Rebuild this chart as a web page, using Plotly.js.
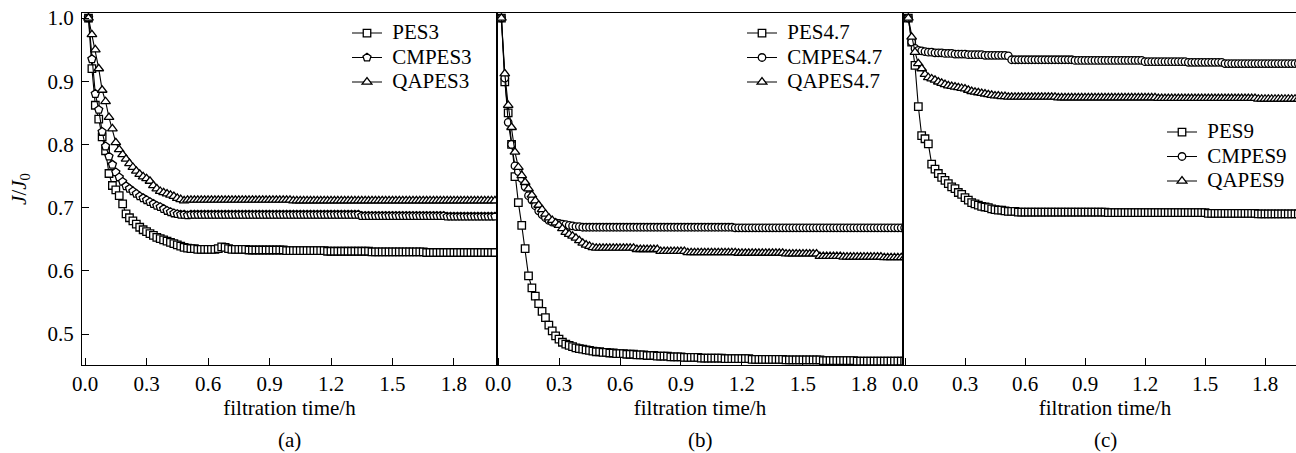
<!DOCTYPE html>
<html><head><meta charset="utf-8">
<script src="https://cdn.plot.ly/plotly-3.0.1.min.js"></script>
<style>html,body{margin:0;padding:0;overflow:hidden;background:#fff}#chart{width:1310px;height:453px}</style>
</head><body><div id="chart"></div>
<script>
// filtration time (minutes)
const TIME_MIN = [1,2,3,4,5,6,7,8,9,10,11,12,13,14,15,16,17,18,19,20,
21,22,23,24,25,26,27,28,29,30,31,32,33,34,35,36,37,38,39,40,
41,42,43,44,45,46,47,48,49,50,51,52,53,54,55,56,57,58,59,60,
61,62,63,64,65,66,67,68,69,70,71,72,73,74,75,76,77,78,79,80,
81,82,83,84,85,86,87,88,89,90,91,92,93,94,95,96,97,98,99,100,
101,102,103,104,105,106,107,108,109,110,111,112,113,114,115,116,117,118,119,120];

const PES3 = [
1.000,0.920,0.862,0.840,0.812,0.790,0.754,0.735,0.728,0.719,
0.706,0.690,0.684,0.679,0.674,0.669,0.665,0.662,0.659,0.656,
0.653,0.651,0.649,0.647,0.645,0.643,0.641,0.639,0.637,0.636,
0.635,0.635,0.634,0.634,0.634,0.634,0.634,0.634,0.635,0.638,
0.637,0.635,0.634,0.634,0.634,0.634,0.634,0.633,0.633,0.633,
0.633,0.633,0.633,0.633,0.633,0.633,0.633,0.633,0.632,0.632,
0.632,0.632,0.632,0.632,0.632,0.632,0.632,0.632,0.632,0.632,
0.631,0.631,0.631,0.631,0.631,0.631,0.631,0.631,0.631,0.631,
0.631,0.631,0.631,0.630,0.630,0.630,0.630,0.630,0.630,0.630,
0.630,0.630,0.630,0.630,0.630,0.630,0.630,0.630,0.630,0.629,
0.629,0.629,0.629,0.629,0.629,0.629,0.629,0.629,0.629,0.629,
0.629,0.629,0.629,0.629,0.629,0.629,0.629,0.629,0.629,0.629];
const CMPES3 = [
1.000,0.935,0.880,0.855,0.820,0.797,0.781,0.768,0.756,0.748,
0.741,0.734,0.730,0.726,0.722,0.718,0.715,0.712,0.709,0.706,
0.703,0.701,0.698,0.695,0.693,0.691,0.690,0.689,0.689,0.688,
0.689,0.689,0.689,0.689,0.689,0.689,0.689,0.689,0.689,0.689,
0.689,0.689,0.689,0.689,0.689,0.689,0.689,0.689,0.689,0.689,
0.689,0.689,0.689,0.689,0.689,0.689,0.689,0.689,0.689,0.689,
0.689,0.689,0.689,0.689,0.689,0.689,0.689,0.689,0.689,0.689,
0.689,0.689,0.689,0.689,0.689,0.689,0.689,0.689,0.689,0.689,
0.687,0.687,0.687,0.687,0.687,0.687,0.687,0.687,0.687,0.687,
0.687,0.687,0.687,0.687,0.687,0.687,0.687,0.687,0.687,0.687,
0.687,0.687,0.687,0.687,0.687,0.686,0.686,0.686,0.686,0.686,
0.686,0.686,0.686,0.686,0.686,0.686,0.686,0.686,0.686,0.686];
const QAPES3 = [
1.000,0.974,0.950,0.920,0.886,0.868,0.843,0.825,0.803,0.792,
0.784,0.777,0.770,0.764,0.758,0.753,0.749,0.746,0.742,0.735,
0.730,0.726,0.724,0.722,0.720,0.718,0.715,0.713,0.711,0.712,
0.712,0.712,0.712,0.712,0.712,0.712,0.712,0.712,0.712,0.712,
0.712,0.712,0.712,0.712,0.712,0.712,0.712,0.712,0.712,0.712,
0.712,0.712,0.712,0.712,0.712,0.712,0.712,0.712,0.712,0.712,
0.711,0.711,0.711,0.711,0.711,0.711,0.711,0.711,0.711,0.711,
0.711,0.711,0.711,0.711,0.711,0.711,0.711,0.711,0.711,0.711,
0.711,0.711,0.711,0.711,0.711,0.711,0.711,0.711,0.711,0.711,
0.711,0.711,0.711,0.711,0.711,0.711,0.711,0.711,0.711,0.711,
0.711,0.711,0.711,0.711,0.711,0.711,0.711,0.711,0.711,0.711,
0.711,0.711,0.711,0.711,0.711,0.711,0.711,0.711,0.711,0.711];

const PES47 = [
1.000,0.899,0.850,0.800,0.749,0.708,0.672,0.635,0.592,0.573,
0.560,0.548,0.536,0.526,0.514,0.505,0.497,0.492,0.487,0.484,
0.482,0.480,0.478,0.477,0.476,0.475,0.474,0.473,0.472,0.472,
0.471,0.471,0.470,0.470,0.469,0.469,0.469,0.468,0.468,0.468,
0.467,0.467,0.467,0.466,0.466,0.466,0.465,0.465,0.465,0.465,
0.464,0.464,0.464,0.464,0.463,0.463,0.463,0.463,0.463,0.462,
0.462,0.462,0.462,0.462,0.462,0.462,0.461,0.461,0.461,0.461,
0.461,0.461,0.461,0.461,0.460,0.460,0.460,0.460,0.460,0.460,
0.460,0.460,0.460,0.460,0.459,0.459,0.459,0.459,0.459,0.459,
0.459,0.459,0.459,0.459,0.459,0.458,0.458,0.458,0.458,0.458,
0.458,0.458,0.458,0.458,0.458,0.457,0.457,0.457,0.457,0.457,
0.457,0.457,0.457,0.457,0.457,0.457,0.457,0.457,0.457,0.457];
const CMPES47 = [
1.000,0.905,0.835,0.800,0.766,0.757,0.746,0.733,0.719,0.712,
0.703,0.695,0.689,0.684,0.680,0.677,0.676,0.675,0.674,0.673,
0.672,0.671,0.670,0.670,0.669,0.669,0.669,0.669,0.669,0.669,
0.669,0.669,0.669,0.669,0.669,0.669,0.669,0.669,0.669,0.669,
0.669,0.669,0.669,0.669,0.669,0.669,0.669,0.669,0.669,0.669,
0.669,0.669,0.669,0.669,0.669,0.669,0.669,0.669,0.669,0.669,
0.669,0.669,0.669,0.669,0.669,0.669,0.669,0.669,0.669,0.668,
0.668,0.668,0.668,0.668,0.668,0.668,0.668,0.668,0.668,0.668,
0.668,0.668,0.668,0.668,0.668,0.668,0.668,0.668,0.668,0.668,
0.668,0.668,0.668,0.668,0.668,0.668,0.668,0.668,0.668,0.668,
0.668,0.668,0.668,0.668,0.668,0.668,0.668,0.668,0.668,0.668,
0.668,0.668,0.668,0.668,0.668,0.668,0.668,0.668,0.668,0.668];
const QAPES47 = [
1.000,0.912,0.862,0.827,0.788,0.764,0.751,0.740,0.730,0.720,
0.711,0.704,0.697,0.690,0.684,0.680,0.676,0.672,0.667,0.661,
0.658,0.655,0.652,0.648,0.644,0.641,0.639,0.637,0.636,0.636,
0.636,0.636,0.636,0.636,0.636,0.636,0.636,0.636,0.636,0.636,
0.634,0.634,0.634,0.634,0.634,0.634,0.634,0.631,0.631,0.631,
0.631,0.631,0.631,0.631,0.631,0.629,0.629,0.629,0.629,0.629,
0.629,0.629,0.629,0.629,0.629,0.629,0.629,0.629,0.629,0.629,
0.628,0.628,0.628,0.628,0.628,0.628,0.628,0.628,0.628,0.628,
0.628,0.628,0.628,0.628,0.627,0.627,0.627,0.627,0.627,0.627,
0.627,0.627,0.627,0.627,0.623,0.623,0.623,0.623,0.623,0.623,
0.623,0.622,0.622,0.622,0.622,0.622,0.622,0.622,0.622,0.622,
0.622,0.622,0.622,0.621,0.621,0.621,0.621,0.621,0.621,0.621];

const PES9 = [
1.000,0.962,0.925,0.860,0.814,0.809,0.801,0.769,0.761,0.754,
0.748,0.743,0.738,0.733,0.730,0.724,0.721,0.716,0.712,0.708,
0.706,0.704,0.702,0.701,0.700,0.698,0.697,0.696,0.696,0.695,
0.694,0.694,0.694,0.693,0.693,0.693,0.693,0.693,0.693,0.693,
0.693,0.693,0.693,0.693,0.693,0.693,0.693,0.693,0.693,0.693,
0.693,0.693,0.693,0.693,0.693,0.693,0.693,0.693,0.693,0.693,
0.692,0.692,0.692,0.692,0.692,0.692,0.692,0.692,0.692,0.692,
0.692,0.692,0.692,0.692,0.692,0.692,0.692,0.692,0.692,0.692,
0.692,0.692,0.692,0.692,0.692,0.692,0.692,0.692,0.692,0.692,
0.691,0.691,0.691,0.691,0.691,0.691,0.691,0.691,0.691,0.691,
0.691,0.691,0.691,0.691,0.691,0.690,0.690,0.690,0.690,0.690,
0.690,0.690,0.690,0.690,0.690,0.690,0.690,0.690,0.690,0.690];
const CMPES9 = [
1.000,0.962,0.952,0.949,0.948,0.947,0.946,0.946,0.945,0.945,
0.945,0.944,0.944,0.944,0.943,0.943,0.943,0.943,0.942,0.942,
0.942,0.942,0.942,0.941,0.941,0.941,0.941,0.941,0.941,0.941,
0.940,0.934,0.934,0.934,0.934,0.934,0.934,0.934,0.934,0.934,
0.934,0.934,0.934,0.934,0.934,0.934,0.934,0.934,0.934,0.934,
0.933,0.933,0.933,0.933,0.933,0.933,0.933,0.933,0.933,0.933,
0.933,0.933,0.933,0.933,0.933,0.933,0.933,0.933,0.933,0.933,
0.933,0.931,0.931,0.931,0.931,0.931,0.931,0.931,0.931,0.931,
0.931,0.931,0.931,0.931,0.930,0.930,0.930,0.930,0.930,0.930,
0.930,0.930,0.930,0.930,0.930,0.928,0.928,0.928,0.928,0.928,
0.928,0.928,0.928,0.928,0.928,0.928,0.928,0.928,0.928,0.928,
0.928,0.928,0.928,0.928,0.928,0.928,0.928,0.928,0.928,0.928];
const QAPES9 = [
1.000,0.970,0.946,0.928,0.920,0.911,0.906,0.904,0.902,0.899,
0.897,0.895,0.893,0.892,0.891,0.890,0.889,0.888,0.886,0.884,
0.883,0.882,0.881,0.880,0.879,0.878,0.877,0.877,0.876,0.876,
0.875,0.875,0.875,0.875,0.875,0.875,0.875,0.875,0.875,0.875,
0.875,0.875,0.875,0.875,0.875,0.874,0.874,0.874,0.874,0.874,
0.874,0.874,0.874,0.874,0.874,0.874,0.874,0.874,0.874,0.874,
0.874,0.874,0.874,0.874,0.874,0.874,0.874,0.874,0.874,0.874,
0.874,0.874,0.874,0.874,0.874,0.873,0.873,0.873,0.873,0.873,
0.873,0.873,0.873,0.873,0.873,0.873,0.873,0.873,0.873,0.873,
0.873,0.873,0.873,0.873,0.873,0.873,0.873,0.873,0.873,0.873,
0.873,0.873,0.873,0.873,0.873,0.872,0.872,0.872,0.872,0.872,
0.872,0.872,0.872,0.872,0.872,0.872,0.872,0.872,0.872,0.872];

const X_TICK_LABELS = ['0.0','0.3','0.6','0.9','1.2','1.5','1.8'];
const X_TICK_VALS = [0,0.3,0.6,0.9,1.2,1.5,1.8];
const Y_TICK_VALS = [0.5,0.6,0.7,0.8,0.9,1.0];
const Y_TICK_LABELS = ['0.5','0.6','0.7','0.8','0.9','1.0'];
const PANEL_LABELS = ['(a)','(b)','(c)'];

const TIME_H = TIME_MIN.map(m => m / 60);
const FONT = '"Liberation Serif", "Times New Roman", Times, serif';
const W = 1310, H = 453;

function legName(s){ return '<span style="font-size:21px">\u00a0' + s + '</span>'; }
function tr(y, name, sym, size, xa, ya, leg){
  return {x: TIME_H, y: y, name: legName(name), type:'scatter', mode:'lines+markers',
    xaxis: xa, yaxis: ya, legend: leg,
    line:{color:'#000', width:1.1},
    marker:{symbol: sym, size: size, color:'#fff', line:{color:'#000', width:1.3}}};
}
const data = [
  tr(PES3,'PES3','square',7.5,'x','y','legend'),
  tr(CMPES3,'CMPES3','pentagon',8.5,'x','y','legend'),
  tr(QAPES3,'QAPES3','triangle-up',8.5,'x','y','legend'),
  tr(PES47,'PES4.7','square',7.5,'x2','y2','legend2'),
  tr(CMPES47,'CMPES4.7','circle',7.5,'x2','y2','legend2'),
  tr(QAPES47,'QAPES4.7','triangle-up',8.5,'x2','y2','legend2'),
  tr(PES9,'PES9','square',7.5,'x3','y3','legend3'),
  tr(CMPES9,'CMPES9','circle',7.5,'x3','y3','legend3'),
  tr(QAPES9,'QAPES9','triangle-up',8.5,'x3','y3','legend3')
];

const yDom = [88/H, 440/H];
function xax(dom, rng, anchor){
  return {domain: dom, range: rng, anchor: anchor, showline:true, mirror:true, linecolor:'#000', linewidth:1,
    ticks:'inside', ticklen:7, tickwidth:1, tickcolor:'#000',
    tickmode:'array', tickvals: X_TICK_VALS, ticktext: X_TICK_LABELS,
    tickfont:{family:FONT, size:21, color:'#000'}, showgrid:false, zeroline:false, automargin:false,
    title:{text:'filtration time/h', font:{family:FONT, size:21, color:'#000'}, standoff:4}};
}
function yax(anchor, labels){
  const o = {domain: yDom, range:[0.451, 1.008], anchor: anchor, showline:true, mirror:true, linecolor:'#000', linewidth:1,
    showgrid:false, zeroline:false, automargin:false};
  if(labels){
    Object.assign(o, {ticks:'inside', ticklen:7, tickwidth:1, tickcolor:'#000',
      tickmode:'array', tickvals: Y_TICK_VALS, ticktext: Y_TICK_LABELS, ticklabelstandoff:3,
      tickfont:{family:FONT, size:21, color:'#000'},
      title:{text:'<i>J</i>/<i>J</i><sub>0</sub>', font:{family:FONT, size:21, color:'#000'}, standoff:15}});
  } else {
    Object.assign(o, {ticks:'', showticklabels:false});
  }
  return o;
}
function leg(xpx, ypx){
  return {x: xpx/W, y: 1 - ypx/H, xanchor:'left', yanchor:'top', bgcolor:'rgba(0,0,0,0)', borderwidth:0,
    font:{family:FONT, size:16.5, color:'#000'}, tracegroupgap:0};
}
const layout = {
  width: W, height: H, margin:{l:0, r:0, t:0, b:0},
  paper_bgcolor:'#fff', plot_bgcolor:'#fff', showlegend:true,
  font:{family:FONT, color:'#000'},
  xaxis: xax([82/W, 497/W], [-0.015, 2.01], 'y'),
  xaxis2: xax([497/W, 903/W], [-0.005, 1.992], 'y2'),
  xaxis3: xax([903/W, 1307/W], [-0.01, 2.01], 'y3'),
  yaxis: yax('x', true),
  yaxis2: yax('x2', false),
  yaxis3: yax('x3', false),
  legend: leg(347, 15.8),
  legend2: leg(742, 15.8),
  legend3: leg(1162, 114.8),
  annotations: PANEL_LABELS.map((t, i) => ({
    text: t, xref:'paper', yref:'paper', showarrow:false,
    x: [289.5, 700, 1105][i] / W, y: 1 - 440/H, xanchor:'center', yanchor:'middle',
    font:{family:FONT, size:21, color:'#000'}
  }))
};
Plotly.newPlot('chart', data, layout, {staticPlot:true, displayModeBar:false});
</script></body></html>
